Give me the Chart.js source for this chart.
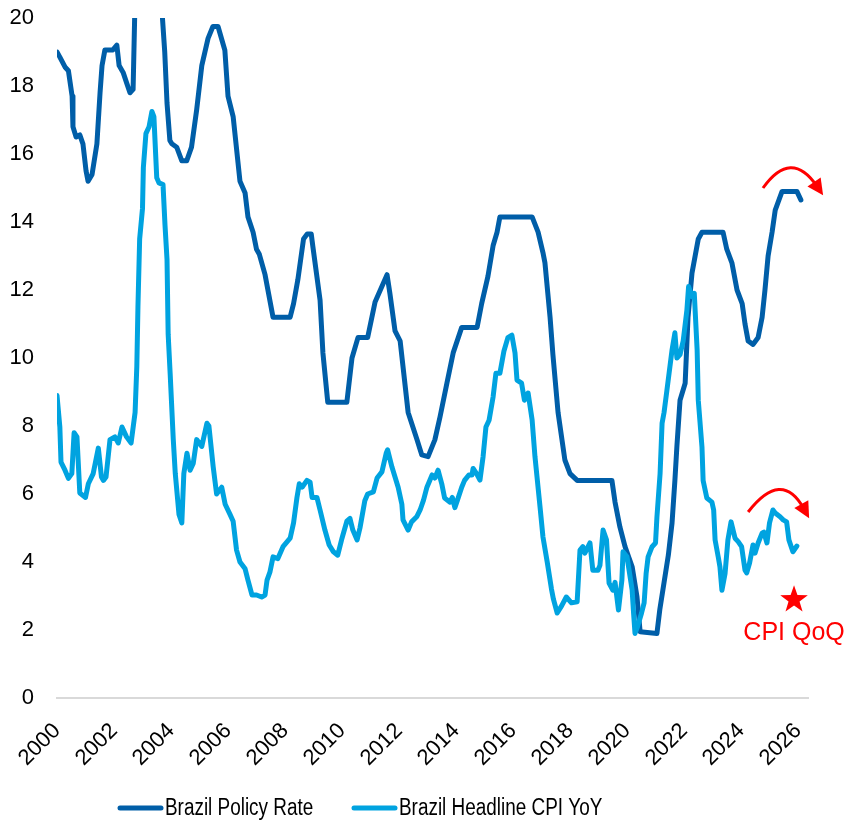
<!DOCTYPE html>
<html>
<head>
<meta charset="utf-8">
<script src="https://cdn.jsdelivr.net/npm/chart.js@4.4.1/dist/chart.umd.min.js"></script>
<style>
  body { margin: 0; background: #fff; }
</style>
</head>
<body>
<canvas id="myChart" width="848" height="821"></canvas>
<script>
// policy rate (values above 20 are clipped by the axis)
const policyYears = [
  2000.0, 2000.1, 2000.28, 2000.4, 2000.53, 2000.56, 2000.67, 2000.8, 2000.91, 2001.02,
  2001.09, 2001.23, 2001.4, 2001.51, 2001.58, 2001.68, 2001.96, 2002.1, 2002.18, 2002.32,
  2002.44, 2002.56, 2002.67, 2002.75, 2002.85, 2002.95, 2003.05, 2003.15, 2003.45, 2003.5,
  2003.55, 2003.62, 2003.7, 2003.78, 2003.86, 2003.96, 2004.03, 2004.2, 2004.38, 2004.55,
  2004.72, 2004.9, 2005.08, 2005.3, 2005.47, 2005.65, 2005.89, 2006.0, 2006.18, 2006.42,
  2006.6, 2006.7, 2006.88, 2007.0, 2007.1, 2007.3, 2007.58, 2008.18, 2008.3, 2008.45,
  2008.65, 2008.78, 2008.92, 2008.98, 2009.23, 2009.33, 2009.5, 2010.17, 2010.35, 2010.56,
  2010.9, 2011.16, 2011.58, 2011.68, 2011.86, 2012.04, 2012.32, 2012.63, 2012.8, 2013.02,
  2013.26, 2013.44, 2013.68, 2013.9, 2014.2, 2014.74, 2014.9, 2015.12, 2015.3, 2015.44,
  2015.54, 2016.67, 2016.88, 2017.05, 2017.12, 2017.3, 2017.4, 2017.58, 2017.82, 2018.0,
  2018.25, 2019.47, 2019.58, 2019.75, 2019.93, 2020.18, 2020.35, 2020.46, 2021.05, 2021.15,
  2021.3, 2021.45, 2021.58, 2021.68, 2021.75, 2021.86, 2022.04, 2022.14, 2022.28, 2022.39,
  2022.5, 2022.63, 2023.37, 2023.5, 2023.68, 2023.86, 2024.04, 2024.14, 2024.25, 2024.42,
  2024.6, 2024.74, 2024.84, 2024.95, 2025.09, 2025.2, 2025.44, 2025.96, 2026.1
];
const policyRate = [
  19.0, 18.85, 18.56, 18.45, 17.7, 16.8, 16.5, 16.56, 16.3, 15.5,
  15.2, 15.4, 16.3, 17.8, 18.6, 19.06, 19.06, 19.2, 18.6, 18.4,
  18.1, 17.8, 17.9, 21.0, 22.0, 25.0, 25.5, 26.5, 26.5, 26.0,
  24.5, 22.0, 20.0, 19.0, 17.5, 16.4, 16.3, 16.2, 15.8, 15.8,
  16.2, 17.3, 18.6, 19.4, 19.75, 19.75, 19.05, 17.7, 17.1, 15.2,
  14.85, 14.15, 13.7, 13.2, 13.05, 12.45, 11.2, 11.2, 11.6, 12.3,
  13.5, 13.65, 13.65, 13.26, 11.7, 10.15, 8.7, 8.7, 10.0, 10.6,
  10.6, 11.65, 12.45, 11.9, 10.8, 10.5, 8.4, 7.6, 7.15, 7.1,
  7.6, 8.27, 9.26, 10.15, 10.9, 10.9, 11.6, 12.4, 13.3, 13.7,
  14.15, 14.15, 13.7, 13.1, 12.8, 11.2, 10.1, 8.4, 7.0, 6.6,
  6.4, 6.4, 5.76, 5.03, 4.45, 3.86, 2.97, 1.95, 1.9, 2.6,
  3.4, 4.2, 5.15, 6.4, 7.4, 8.76, 9.26, 11.2, 12.5, 13.0,
  13.5, 13.7, 13.7, 13.2, 12.8, 12.0, 11.6, 11.0, 10.5, 10.4,
  10.6, 11.2, 12.0, 13.0, 13.7, 14.35, 14.9, 14.9, 14.65
];

// headline CPI YoY
const cpiYears = [
  2000.0, 2000.1, 2000.14, 2000.28, 2000.4, 2000.52, 2000.6, 2000.7, 2000.8, 2001.0,
  2001.1, 2001.27, 2001.45, 2001.56, 2001.63, 2001.72, 2001.86, 2002.03, 2002.15, 2002.28,
  2002.44, 2002.6, 2002.74, 2002.8, 2002.84, 2002.9, 2003.0, 2003.03, 2003.12, 2003.23,
  2003.33, 2003.4, 2003.5, 2003.58, 2003.72, 2003.79, 2003.86, 2003.9, 2003.97, 2004.08,
  2004.15, 2004.28, 2004.38, 2004.45, 2004.56, 2004.67, 2004.78, 2004.9, 2005.08, 2005.26,
  2005.33, 2005.48, 2005.6, 2005.78, 2005.9, 2006.07, 2006.18, 2006.3, 2006.42, 2006.6,
  2006.7, 2006.84, 2007.0, 2007.18, 2007.3, 2007.37, 2007.47, 2007.58, 2007.75, 2007.93,
  2008.18, 2008.3, 2008.42, 2008.5, 2008.6, 2008.77, 2008.88, 2008.95, 2009.12, 2009.23,
  2009.4, 2009.55, 2009.7, 2009.85, 2010.0, 2010.17, 2010.28, 2010.38, 2010.53, 2010.63,
  2010.8, 2010.9, 2011.1, 2011.23, 2011.4, 2011.55, 2011.6, 2011.75, 2011.86, 2011.97,
  2012.1, 2012.14, 2012.32, 2012.44, 2012.62, 2012.74, 2012.86, 2012.98, 2013.16, 2013.26,
  2013.37, 2013.5, 2013.6, 2013.79, 2013.87, 2013.96, 2014.05, 2014.2, 2014.3, 2014.45,
  2014.56, 2014.6, 2014.72, 2014.84, 2014.95, 2015.05, 2015.16, 2015.3, 2015.4, 2015.54,
  2015.68, 2015.82, 2015.96, 2016.07, 2016.14, 2016.3, 2016.4, 2016.53, 2016.67, 2016.77,
  2016.95, 2017.05, 2017.2, 2017.35, 2017.42, 2017.55, 2017.7, 2017.87, 2018.05, 2018.25,
  2018.35, 2018.45, 2018.52, 2018.7, 2018.8, 2018.98, 2019.05, 2019.16, 2019.28, 2019.37,
  2019.5, 2019.58, 2019.7, 2019.82, 2019.86, 2020.0, 2020.18, 2020.23, 2020.28, 2020.37,
  2020.51, 2020.6, 2020.67, 2020.74, 2020.88, 2021.0, 2021.05, 2021.16, 2021.23, 2021.3,
  2021.4, 2021.58, 2021.68, 2021.75, 2021.86, 2021.97, 2022.1, 2022.16, 2022.28, 2022.36,
  2022.46, 2022.5, 2022.63, 2022.67, 2022.8, 2022.98, 2023.04, 2023.09, 2023.2, 2023.26,
  2023.33, 2023.44, 2023.54, 2023.65, 2023.79, 2023.9, 2024.02, 2024.14, 2024.2, 2024.3,
  2024.42, 2024.49, 2024.6, 2024.74, 2024.8, 2024.91, 2025.0, 2025.12, 2025.2, 2025.37,
  2025.48, 2025.6, 2025.68, 2025.82, 2025.96
];
const cpiYoY = [
  8.9, 7.97, 6.94, 6.7, 6.46, 6.6, 7.8, 7.68, 6.03, 5.9,
  6.3, 6.6, 7.35, 6.5, 6.4, 6.5, 7.6, 7.68, 7.5, 7.97,
  7.68, 7.5, 8.4, 9.74, 11.5, 13.5, 14.4, 15.6, 16.6, 16.8,
  17.25, 17.1, 15.3, 15.15, 15.1, 13.9, 12.9, 10.7, 9.55, 7.6,
  6.6, 5.4, 5.15, 6.6, 7.2, 6.7, 6.9, 7.6, 7.4, 8.08,
  8.0, 6.8, 6.0, 6.2, 5.7, 5.4, 5.2, 4.35, 4.0, 3.8,
  3.47, 3.03, 3.03, 2.97, 3.03, 3.47, 3.7, 4.15, 4.1, 4.45,
  4.7, 5.15, 5.9, 6.3, 6.2, 6.4, 6.35, 5.9, 5.9, 5.53,
  4.94, 4.5, 4.3, 4.2, 4.7, 5.2, 5.28, 4.94, 4.65, 5.0,
  5.8, 6.0, 6.06, 6.47, 6.65, 7.2, 7.3, 6.8, 6.5, 6.2,
  5.7, 5.24, 4.94, 5.18, 5.33, 5.53, 5.82, 6.2, 6.56, 6.47,
  6.7, 6.3, 5.88, 5.76, 5.9, 5.6, 5.82, 6.2, 6.4, 6.56,
  6.56, 6.75, 6.6, 6.41, 7.1, 7.97, 8.17, 8.85, 9.55, 9.55,
  10.2, 10.6, 10.67, 10.15, 9.35, 9.26, 8.76, 8.97, 8.18, 7.1,
  5.6, 4.74, 4.0, 3.2, 2.9, 2.5, 2.7, 2.97, 2.8, 2.83,
  4.35, 4.45, 4.26, 4.56, 3.76, 3.76, 3.9, 4.94, 4.65, 3.38,
  3.17, 3.4, 2.59, 3.47, 4.3, 4.15, 3.17, 2.5, 1.9, 2.1,
  2.5, 2.8, 3.66, 4.15, 4.45, 4.56, 5.33, 6.6, 8.08, 8.4,
  9.05, 10.24, 10.74, 10.0, 10.1, 10.5, 11.4, 12.1, 11.8, 11.9,
  10.24, 8.76, 7.38, 6.4, 5.88, 5.76, 5.53, 4.65, 4.15, 3.86,
  3.17, 3.66, 4.65, 5.18, 4.7, 4.6, 4.45, 3.76, 3.68, 3.97,
  4.5, 4.26, 4.56, 4.85, 4.88, 4.56, 5.15, 5.53, 5.44, 5.33,
  5.24, 5.18, 4.65, 4.3, 4.47
];

const seriesNames = ["Brazil Policy Rate", "Brazil Headline CPI YoY"];
const seriesColors = ["#005EA8", "#00A3E0"];

// red markers drawn on top, in data units
const arrows = [
  { from: [2024.77, 15.0], peak: [2025.79, 15.53], to: [2026.88, 14.79] },
  { from: [2024.25, 5.47], peak: [2025.37, 6.06], to: [2026.39, 5.29] },
];
const starAt = [2025.86, 2.89];
const noteText = "CPI QoQ";
const noteAt = [2025.86, 1.7];

const FONT = "'Liberation Sans', Arial, sans-serif";

function toPoints(xs, ys) {
  return xs.map((x, i) => ({ x: x, y: ys[i] }));
}

function drawArrow(ctx, s, p, t) {
  const c = { x: 2 * p.x - (s.x + t.x) / 2, y: 2 * p.y - (s.y + t.y) / 2 };
  const dx = t.x - c.x, dy = t.y - c.y;
  const len = Math.hypot(dx, dy);
  const ux = dx / len, uy = dy / len;
  const head = 16, half = 8;
  ctx.beginPath();
  ctx.moveTo(s.x, s.y);
  ctx.quadraticCurveTo(c.x, c.y, t.x - ux * head * 0.7, t.y - uy * head * 0.7);
  ctx.stroke();
  ctx.beginPath();
  ctx.moveTo(t.x, t.y);
  ctx.lineTo(t.x - ux * head - uy * half, t.y - uy * head + ux * half);
  ctx.lineTo(t.x - ux * head + uy * half, t.y - uy * head - ux * half);
  ctx.closePath();
  ctx.fill();
}

function drawStar(ctx, x, y, r) {
  ctx.beginPath();
  for (let i = 0; i < 10; i++) {
    const rad = i % 2 ? r * 0.4 : r;
    const a = -Math.PI / 2 + (i * Math.PI) / 5;
    ctx.lineTo(x + rad * Math.cos(a), y + rad * Math.sin(a));
  }
  ctx.closePath();
  ctx.fill();
}

const notes = {
  id: "notes",
  afterDraw(chart) {
    const ctx = chart.ctx;
    const xs = chart.scales.x, ys = chart.scales.y;
    const px = (v) => ({ x: xs.getPixelForValue(v[0]), y: ys.getPixelForValue(v[1]) });
    ctx.save();
    ctx.strokeStyle = "#FF0000";
    ctx.fillStyle = "#FF0000";
    ctx.lineWidth = 3;
    ctx.lineCap = "butt";
    arrows.forEach((a) => drawArrow(ctx, px(a.from), px(a.peak), px(a.to)));
    const st = px(starAt);
    drawStar(ctx, st.x, st.y, 14.5);
    const nt = px(noteAt);
    ctx.font = "25px " + FONT;
    ctx.textAlign = "center";
    ctx.textBaseline = "alphabetic";
    ctx.fillText(noteText, nt.x, nt.y);
    ctx.restore();
  },
};

// legend drawn by hand so it sits where the original one does
const legendRow = {
  id: "legendRow",
  afterDraw(chart) {
    const ctx = chart.ctx;
    const y = 808;
    const starts = [118, 352];
    ctx.save();
    chart.data.datasets.forEach((ds, i) => {
      const x0 = starts[i];
      ctx.strokeStyle = ds.borderColor;
      ctx.lineWidth = 5;
      ctx.lineCap = "round";
      ctx.beginPath();
      ctx.moveTo(x0 + 2, y);
      ctx.lineTo(x0 + 43, y);
      ctx.stroke();
      ctx.save();
      ctx.translate(x0 + 47, y);
      ctx.scale(0.86, 1.05);
      ctx.fillStyle = "#000";
      ctx.font = "22px " + FONT;
      ctx.textBaseline = "middle";
      ctx.fillText(ds.label, 0, 1);
      ctx.restore();
    });
    ctx.restore();
  },
};

const myChart = document.getElementById("myChart").getContext("2d");

const chart = new Chart(myChart, {
  type: "line",
  data: {
    datasets: [
      {
        label: seriesNames[0],
        data: toPoints(policyYears, policyRate),
        borderColor: seriesColors[0],
        backgroundColor: seriesColors[0],
        borderWidth: 5,
        pointRadius: 0,
        tension: 0,
        borderJoinStyle: "round",
        borderCapStyle: "round",
        order: 1,
      },
      {
        label: seriesNames[1],
        data: toPoints(cpiYears, cpiYoY),
        borderColor: seriesColors[1],
        backgroundColor: seriesColors[1],
        borderWidth: 5,
        pointRadius: 0,
        tension: 0,
        borderJoinStyle: "round",
        borderCapStyle: "round",
        order: 0,
      },
    ],
  },
  options: {
    responsive: false,
    animation: false,
    layout: {
      padding: { top: 18, right: 40, bottom: 43, left: 0 },
    },
    plugins: {
      legend: { display: false },
      tooltip: { enabled: false },
    },
    scales: {
      x: {
        type: "linear",
        min: 2000,
        max: 2026.35,
        grid: { display: false, drawTicks: false },
        border: { display: true, color: "#D9D9D9", width: 2 },
        afterFit: (s) => { s.height = 80; },
        ticks: {
          stepSize: 2,
          includeBounds: false,
          autoSkip: false,
          minRotation: 45,
          maxRotation: 45,
          padding: 20,
          color: "#000",
          font: { family: FONT, size: 22 },
          callback: (v) => String(v),
        },
      },
      y: {
        min: 0,
        max: 20,
        grid: { display: false, drawTicks: false },
        border: { display: false },
        afterFit: (s) => {
          s.width = 57;
          s.paddingTop = 0;
          s.paddingBottom = 0;
        },
        ticks: {
          stepSize: 2,
          padding: 23,
          color: "#000",
          font: { family: FONT, size: 22 },
        },
      },
    },
  },
  plugins: [notes, legendRow],
});
</script>
</body>
</html>
